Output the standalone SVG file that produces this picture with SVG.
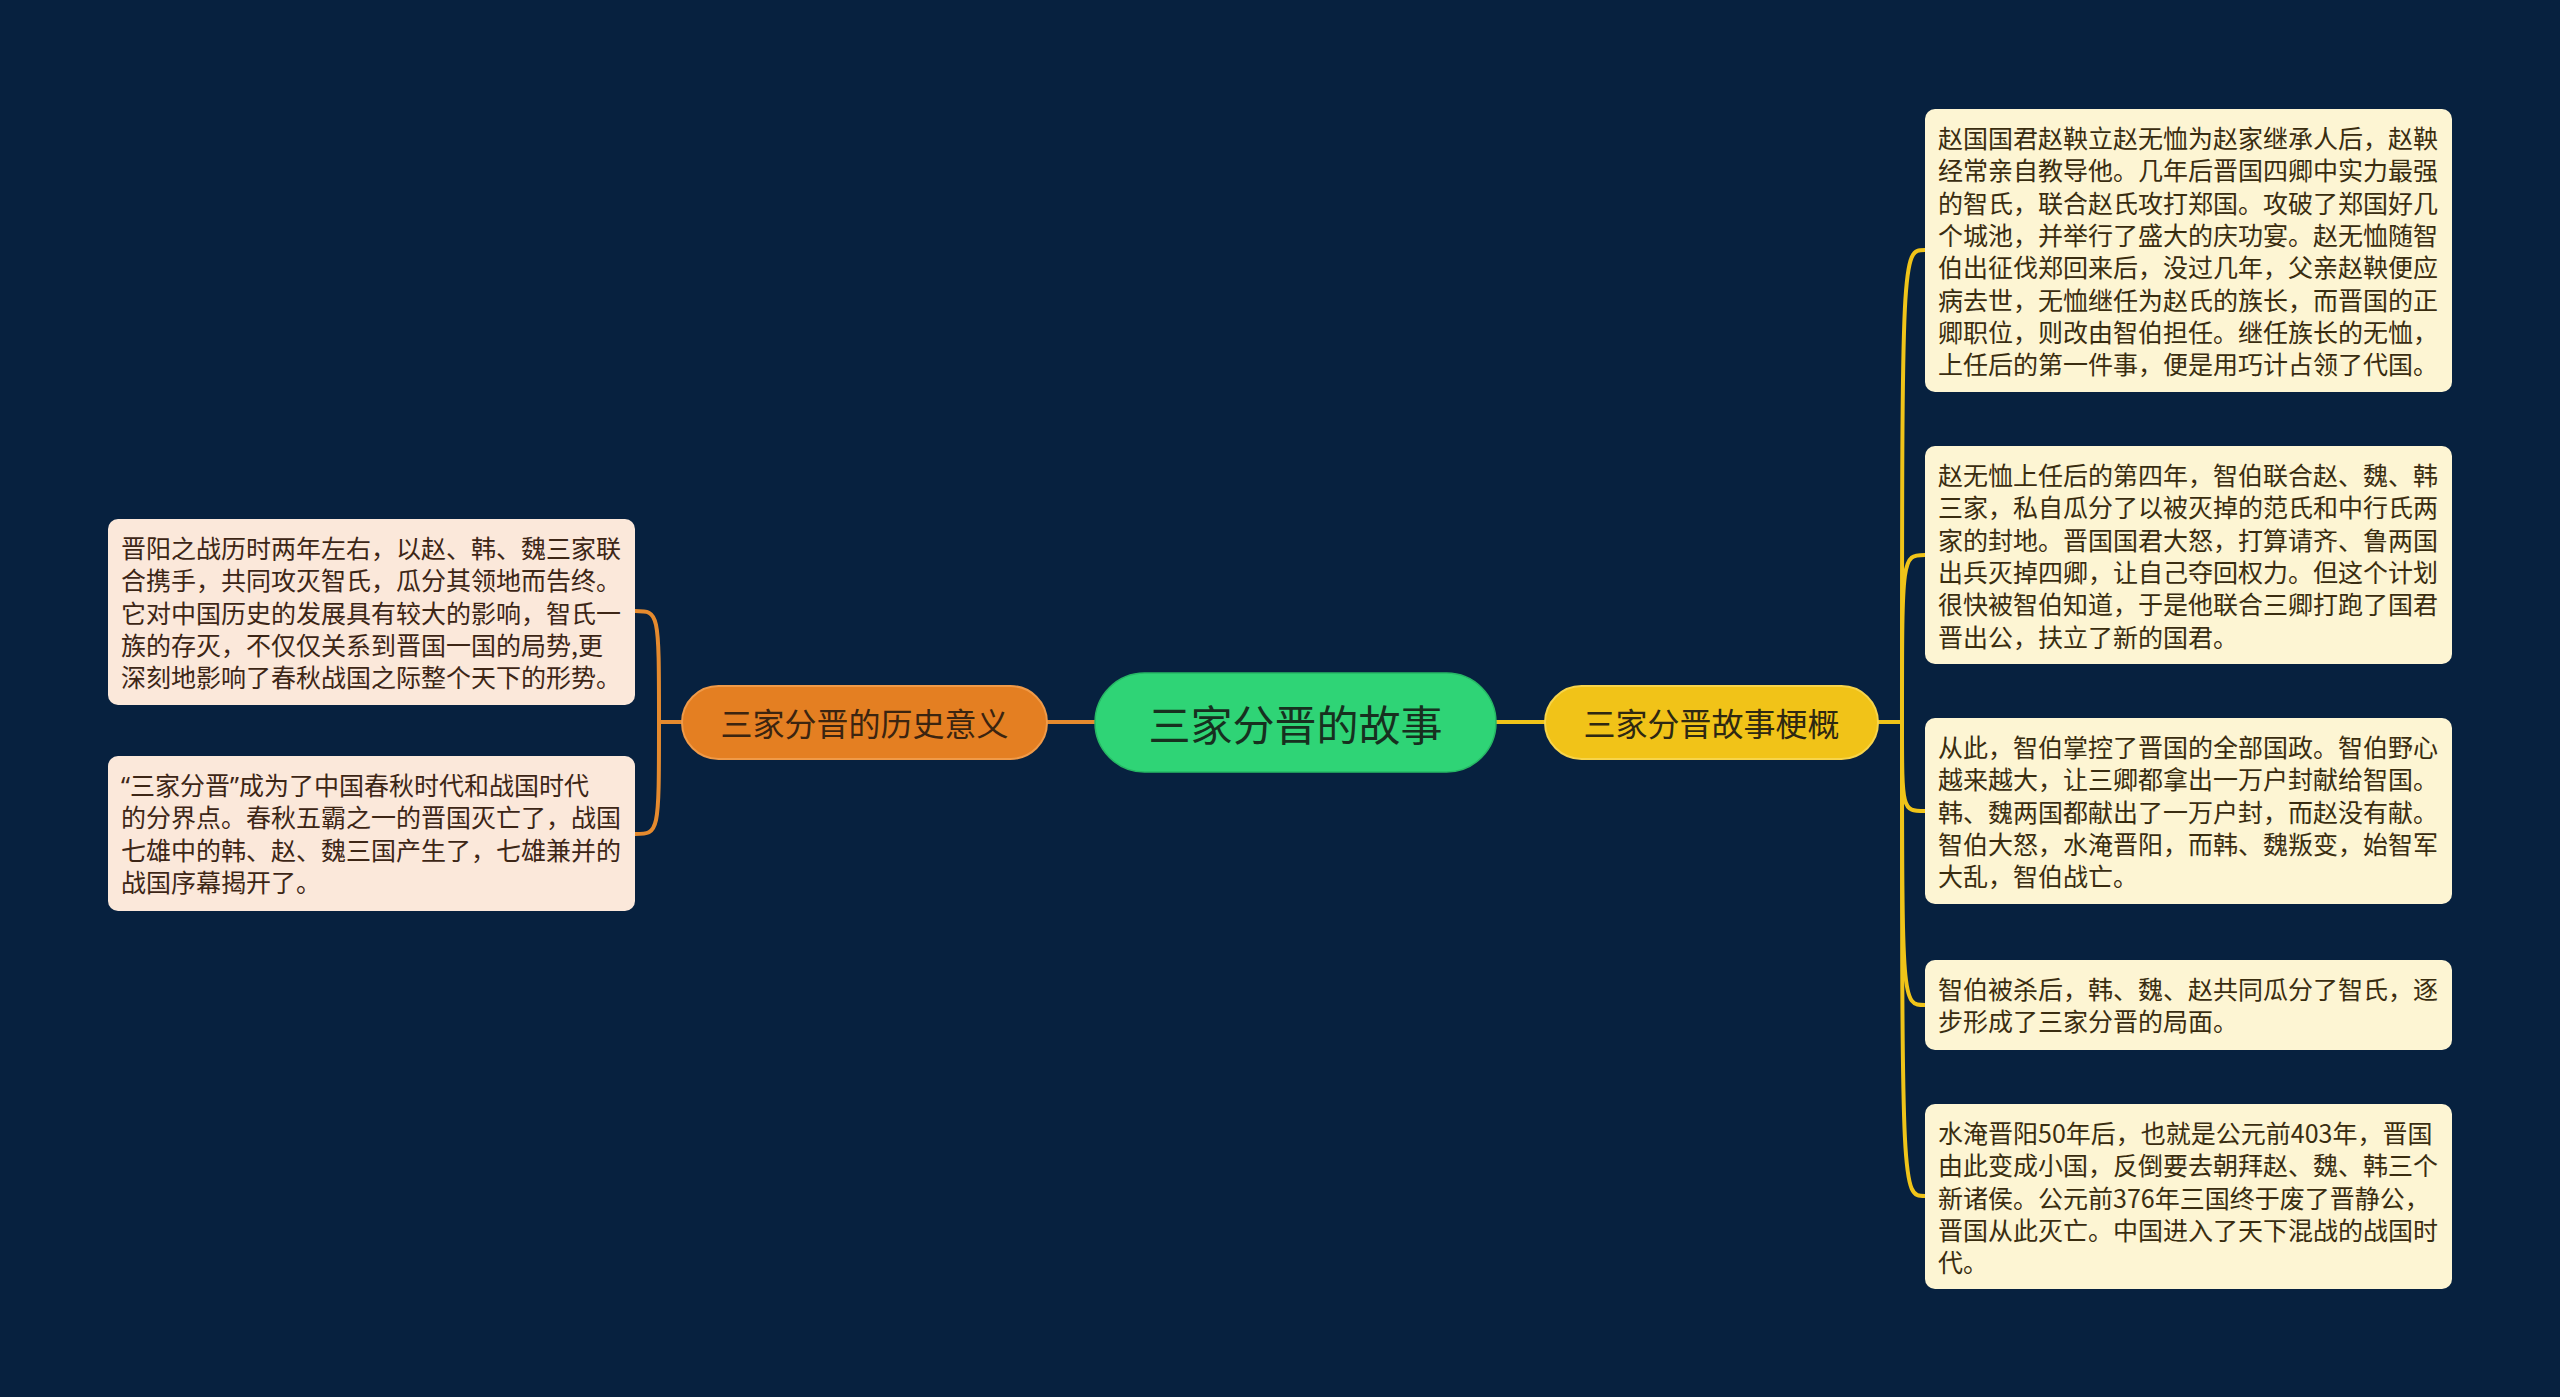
<svg xmlns="http://www.w3.org/2000/svg" width="2560" height="1397" viewBox="0 0 2560 1397">
<style>
.bg{fill:#07213f}
.leafR{fill:#fdf5d3}
.leafL{fill:#fbe8da}
.lt{font-family:"Noto Sans CJK SC","Noto Sans",sans-serif;font-size:25px}
.ltR{fill:#3a2d10}
.ltL{fill:#3d2616}
.q{font-family:"Noto Sans","Noto Sans CJK SC",sans-serif}
.nt{font-family:"Noto Sans CJK SC","Noto Sans",sans-serif;text-anchor:middle;dominant-baseline:central}
.cy{fill:none;stroke:#f0c419;stroke-width:4}
.co{fill:none;stroke:#e58a2e;stroke-width:4}
</style>
<rect class="bg" x="0" y="0" width="2560" height="1397"/>

<g id="connectors">
  <path class="co" d="M1095,722 L1047,722"/>
  <path class="cy" d="M1496,722 L1545,722"/>
  <path class="co" d="M682,722 L659,722"/>
  <path class="co" d="M659,722 C659,611 659,611 635,611"/>
  <path class="co" d="M659,722 C659,834 659,834 635,834"/>
  <path class="cy" d="M1878,722 L1902,722"/>
  <path class="cy" d="M1902,722 C1902,250 1902,250 1925,250"/>
  <path class="cy" d="M1902,722 C1902,555 1902,555 1925,555"/>
  <path class="cy" d="M1902,722 C1902,811 1902,811 1925,811"/>
  <path class="cy" d="M1902,722 C1902,1005 1902,1005 1925,1005"/>
  <path class="cy" d="M1902,722 C1902,1196 1902,1196 1925,1196"/>
</g>

<g id="root">
  <rect x="1095" y="673" width="401" height="99" rx="49.5" fill="#2fd476" stroke="#27b865" stroke-width="1.5"/>
  <text class="nt" x="1295.5" y="722" font-size="42" fill="#17301f">三家分晋的故事</text>
</g>

<g id="branch-left">
  <rect x="682" y="686" width="365" height="73" rx="36.5" fill="#e47f22" stroke="#f09a48" stroke-width="2"/>
  <text class="nt" x="864.5" y="722" font-size="32" fill="#3b2410">三家分晋的历史意义</text>
</g>

<g id="branch-right">
  <rect x="1545" y="686" width="333" height="73" rx="36.5" fill="#f1c318" stroke="#f7d44a" stroke-width="2"/>
  <text class="nt" x="1711.5" y="722" font-size="32" fill="#2e2812">三家分晋故事梗概</text>
</g>

<g id="leaf-r1">
  <rect class="leafR" x="1925" y="109" width="527" height="283" rx="10"/>
  <text class="lt ltR" x="1938">
    <tspan x="1938" y="148">赵国国君赵鞅立赵无恤为赵家继承人后，赵鞅</tspan>
    <tspan x="1938" y="180.3">经常亲自教导他。几年后晋国四卿中实力最强</tspan>
    <tspan x="1938" y="212.6">的智氏，联合赵氏攻打郑国。攻破了郑国好几</tspan>
    <tspan x="1938" y="244.9">个城池，并举行了盛大的庆功宴。赵无恤随智</tspan>
    <tspan x="1938" y="277.2">伯出征伐郑回来后，没过几年，父亲赵鞅便应</tspan>
    <tspan x="1938" y="309.5">病去世，无恤继任为赵氏的族长，而晋国的正</tspan>
    <tspan x="1938" y="341.8">卿职位，则改由智伯担任。继任族长的无恤，</tspan>
    <tspan x="1938" y="374.1">上任后的第一件事，便是用巧计占领了代国。</tspan>
  </text>
</g>

<g id="leaf-r2">
  <rect class="leafR" x="1925" y="446" width="527" height="218" rx="10"/>
  <text class="lt ltR" x="1938">
    <tspan x="1938" y="485">赵无恤上任后的第四年，智伯联合赵、魏、韩</tspan>
    <tspan x="1938" y="517.3">三家，私自瓜分了以被灭掉的范氏和中行氏两</tspan>
    <tspan x="1938" y="549.6">家的封地。晋国国君大怒，打算请齐、鲁两国</tspan>
    <tspan x="1938" y="581.9">出兵灭掉四卿，让自己夺回权力。但这个计划</tspan>
    <tspan x="1938" y="614.2">很快被智伯知道，于是他联合三卿打跑了国君</tspan>
    <tspan x="1938" y="646.5">晋出公，扶立了新的国君。</tspan>
  </text>
</g>

<g id="leaf-r3">
  <rect class="leafR" x="1925" y="718" width="527" height="186" rx="10"/>
  <text class="lt ltR" x="1938">
    <tspan x="1938" y="757">从此，智伯掌控了晋国的全部国政。智伯野心</tspan>
    <tspan x="1938" y="789.3">越来越大，让三卿都拿出一万户封献给智国。</tspan>
    <tspan x="1938" y="821.6">韩、魏两国都献出了一万户封，而赵没有献。</tspan>
    <tspan x="1938" y="853.9">智伯大怒，水淹晋阳，而韩、魏叛变，始智军</tspan>
    <tspan x="1938" y="886.2">大乱，智伯战亡。</tspan>
  </text>
</g>

<g id="leaf-r4">
  <rect class="leafR" x="1925" y="960" width="527" height="90" rx="10"/>
  <text class="lt ltR" x="1938">
    <tspan x="1938" y="999">智伯被杀后，韩、魏、赵共同瓜分了智氏，逐</tspan>
    <tspan x="1938" y="1031.3">步形成了三家分晋的局面。</tspan>
  </text>
</g>

<g id="leaf-r5">
  <rect class="leafR" x="1925" y="1104" width="527" height="185" rx="10"/>
  <text class="lt ltR" x="1938">
    <tspan x="1938" y="1143">水淹晋阳50年后，也就是公元前403年，晋国</tspan>
    <tspan x="1938" y="1175.3">由此变成小国，反倒要去朝拜赵、魏、韩三个</tspan>
    <tspan x="1938" y="1207.6">新诸侯。公元前376年三国终于废了晋静公，</tspan>
    <tspan x="1938" y="1239.9">晋国从此灭亡。中国进入了天下混战的战国时</tspan>
    <tspan x="1938" y="1272.2">代。</tspan>
  </text>
</g>

<g id="leaf-l1">
  <rect class="leafL" x="108" y="519" width="527" height="186" rx="10"/>
  <text class="lt ltL" x="121">
    <tspan x="121" y="558">晋阳之战历时两年左右，以赵、韩、魏三家联</tspan>
    <tspan x="121" y="590.3">合携手，共同攻灭智氏，瓜分其领地而告终。</tspan>
    <tspan x="121" y="622.6">它对中国历史的发展具有较大的影响，智氏一</tspan>
    <tspan x="121" y="654.9">族的存灭，不仅仅关系到晋国一国的局势,更</tspan>
    <tspan x="121" y="687.2">深刻地影响了春秋战国之际整个天下的形势。</tspan>
  </text>
</g>

<g id="leaf-l2">
  <rect class="leafL" x="108" y="756" width="527" height="155" rx="10"/>
  <text class="lt ltL" x="121">
    <tspan x="121" y="795"><tspan class="q">“</tspan>三家分晋<tspan class="q">”</tspan>成为了中国春秋时代和战国时代</tspan>
    <tspan x="121" y="827.3">的分界点。春秋五霸之一的晋国灭亡了，战国</tspan>
    <tspan x="121" y="859.6">七雄中的韩、赵、魏三国产生了，七雄兼并的</tspan>
    <tspan x="121" y="891.9">战国序幕揭开了。</tspan>
  </text>
</g>
</svg>
